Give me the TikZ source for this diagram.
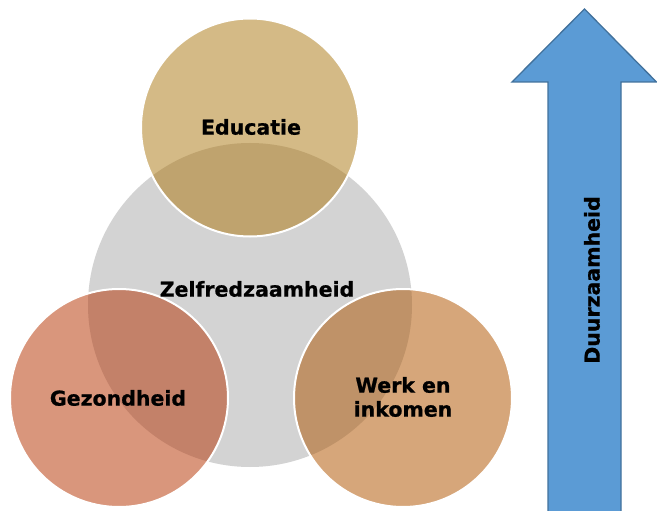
\documentclass[tikz,border=0pt]{standalone}
\usepackage{fontspec}
\setmainfont{DejaVu Sans}[BoldFeatures={FakeBold=0.8}]
\definecolor{greyc}{RGB}{211,211,211}
\definecolor{educ}{RGB}{212,186,134}
\definecolor{educo}{RGB}{191,163,110}
\definecolor{gezc}{RGB}{217,150,124}
\definecolor{gezo}{RGB}{195,129,105}
\definecolor{werkc}{RGB}{214,166,122}
\definecolor{werko}{RGB}{191,146,104}
\definecolor{arrowf}{RGB}{91,155,213}
\definecolor{arrowd}{RGB}{65,113,156}
\tikzset{
  lbl/.style={font=\bfseries\fontsize{20.5}{24}\selectfont, text=black, align=center, inner sep=0pt},
  ring/.style={draw=white, line width=2pt}
}
\begin{document}
\begin{tikzpicture}[x=1pt,y=-1pt]
\useasboundingbox (0,0) rectangle (657,511);
\clip (0,0) rectangle (657,511);
% big grey circle
\fill[greyc] (250,305) circle[radius=162pt];
% Educatie
\fill[educ] (250,127.5) circle[radius=109pt];
\begin{scope}\clip (250,305) circle[radius=162pt];
\fill[educo] (250,127.5) circle[radius=109pt];\end{scope}
\draw[ring] (250,127.5) circle[radius=109pt];
% Gezondheid
\fill[gezc] (119,398) circle[radius=109pt];
\begin{scope}\clip (250,305) circle[radius=162pt];
\fill[gezo] (119,398) circle[radius=109pt];\end{scope}
\draw[ring] (119,398) circle[radius=109pt];
% Werk
\fill[werkc] (403,398) circle[radius=109pt];
\begin{scope}\clip (250,305) circle[radius=162pt];
\fill[werko] (403,398) circle[radius=109pt];\end{scope}
\draw[ring] (403,398) circle[radius=109pt];
% arrow
\draw[fill=arrowf, draw=arrowd, line width=1.3pt, line join=miter]
  (548,530) -- (548,82) -- (512,82) -- (584.5,9) -- (656.5,82) -- (621,82) -- (621,530) -- cycle;
% labels
\node[lbl] (edu) at (251,127) {Educatie};
\node[lbl] (zelf) at (257,289) {Zelfredzaamheid};
\node[lbl] (gez) at (118,398) {Gezondheid};
\node[lbl] (werk) at (403,397) {Werk en\\inkomen};
\node[lbl, rotate=90] (duur) at (592,280) {Duurzaamheid};
\end{tikzpicture}
\end{document}
